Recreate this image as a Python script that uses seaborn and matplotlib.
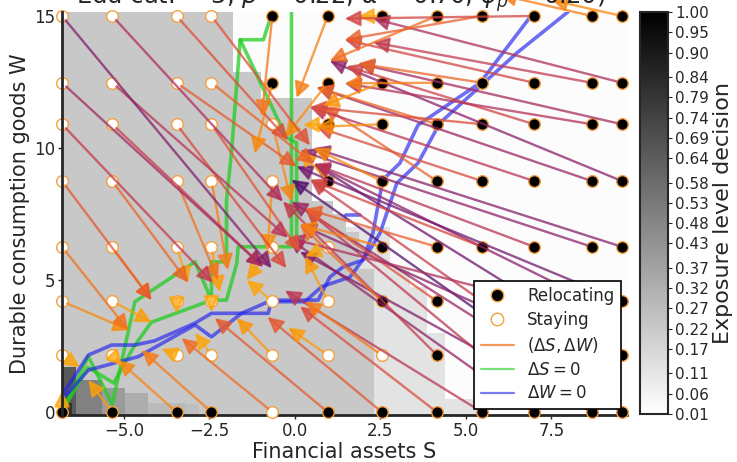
import numpy as np
import matplotlib
matplotlib.use("Agg")
import matplotlib.pyplot as plt
import seaborn as sns
import pandas as pd
from matplotlib.lines import Line2D

# ---------------- data ----------------
S_grid = [-6.81, -5.34, -3.46, -2.44, -0.66, 0.96, 2.54, 4.15, 5.47, 6.99, 8.68, 9.56]
W_grid = [0.0, 2.16, 4.20, 6.26, 8.75, 10.90, 12.47, 15.0]

# 1 = relocating, 0 = staying (rows follow W_grid, bottom to top)
relocating = [
    [1, 1, 1, 1, 0, 1, 1, 1, 1, 1, 1, 1],
    [0, 0, 0, 0, 0, 0, 0, 1, 1, 1, 1, 1],
    [0, 0, 0, 0, 0, 0, 1, 1, 1, 1, 1, 1],
    [0, 0, 0, 0, 0, 0, 1, 1, 1, 1, 1, 1],
    [0, 0, 0, 0, 0, 1, 1, 1, 1, 1, 1, 1],
    [0, 0, 0, 0, 0, 1, 1, 1, 1, 1, 1, 1],
    [0, 0, 0, 0, 1, 1, 1, 1, 1, 1, 1, 1],
    [0, 0, 0, 0, 1, 1, 1, 1, 1, 1, 1, 1],
]

next_S = [
    [-6.81, -6.04, -5.17, -4.48, -3.31, -2.34, -0.80, 0.15, -0.29, -0.20, 0.15, -0.10],
    [-6.29, -5.05, -3.90, -2.92, -1.70, -0.20, 0.30, -0.35, 0.30, -0.10, 0.15, 0.55],
    [-4.85, -4.19, -3.46, -2.44, -1.41, 0.30, 0.15, 0.30, 0.45, -0.20, 0.55, 0.05],
    [-4.87, -4.19, -3.12, -2.20, -1.41, 0.30, 0.15, 0.30, 0.45, 0.55, 0.15, 0.55],
    [-4.19, -3.12, -2.25, -1.96, -0.80, 0.15, 0.55, 0.82, 0.63, 0.44, 0.63, 1.02],
    [-2.40, -0.93, -0.25, 0.15, -0.10, 0.24, 0.63, 0.63, 0.44, 1.51, 1.46, 1.85],
    [-0.93, -0.20, 0.05, 0.55, -1.17, -0.29, 0.82, 1.46, 1.85, 1.46, 2.29, 2.29],
    [-0.68, -0.35, -0.20, 0.44, -0.97, 0.05, 1.85, 1.02, 1.46, 1.46, 6.00, 7.50],
]
next_W = [
    [0.80, 1.21, 1.97, 2.35, 2.80, 3.56, 3.60, 4.00, 4.60, 6.60, 6.07, 8.80],
    [1.70, 1.75, 2.40, 3.00, 3.56, 3.20, 4.20, 7.97, 7.70, 7.97, 7.10, 9.40],
    [3.10, 3.40, 3.75, 3.80, 5.00, 5.90, 7.10, 7.70, 8.80, 6.60, 9.40, 9.30],
    [3.10, 4.24, 4.90, 4.55, 5.00, 5.90, 7.10, 7.70, 8.80, 9.40, 9.90, 10.00],
    [4.24, 4.90, 5.00, 5.38, 6.10, 9.90, 10.00, 11.60, 10.80, 11.55, 12.30, 13.30],
    [4.90, 5.50, 5.45, 6.07, 7.97, 10.87, 10.80, 12.30, 11.55, 13.10, 12.45, 13.20],
    [5.50, 6.60, 9.30, 9.40, 9.80, 10.40, 11.60, 12.45, 13.20, 14.10, 14.00, 14.90],
    [5.45, 7.97, 10.30, 10.10, 11.20, 11.90, 14.98, 13.30, 14.10, 14.90, 15.80, 15.60],
]

# zero-change loci
green1_S = [-0.66, -0.92, -1.60, -1.85, -2.00, -2.00, -2.44, -2.44, -4.20, -4.70, -5.30, -6.05, -6.78]
green1_W = [15.15, 14.10, 14.10, 9.90, 8.00, 5.69, 5.69, 4.24, 3.40, 2.50, 1.10, 1.70, 0.10]
green2_S = [-6.78, -6.04, -5.34, -4.68, -2.92, -2.44, -2.00, -1.70, -1.66, -0.10, -0.10]
green2_W = [0.10, 2.10, 0.30, 4.18, 5.69, 4.24, 4.24, 5.63, 6.26, 6.26, 15.15]
green3_S = [-1.60, -0.25, 0.05, 0.05]
green3_W = [14.10, 10.40, 10.20, 6.30]

blue1_S = [-6.78, -6.04, -5.36, -4.68, -4.10, -2.92, -2.44, -0.78, -0.68, 0.68, 1.02, 1.40, 1.99, 2.28, 2.57, 3.07, 3.60, 5.41, 6.99]
blue1_W = [0.70, 2.16, 2.54, 2.54, 2.70, 3.37, 3.74, 3.74, 4.24, 4.24, 5.11, 5.49, 5.76, 6.78, 8.79, 9.43, 10.87, 12.46, 15.15]
blue2_S = [-6.78, -6.04, -4.58, -2.92, -2.44, -1.56, -0.78, 0.29, 0.78, 1.61, 2.13, 2.49, 2.98, 3.60, 4.24, 6.49, 7.98]
blue2_W = [0.50, 1.59, 2.10, 3.30, 2.85, 3.74, 4.18, 4.18, 4.75, 5.11, 6.02, 6.78, 8.67, 9.43, 10.95, 13.60, 15.15]
blue3_S = [1.50, 1.90]
blue3_W = [7.46, 7.46]

# exposure-level background (band boundaries)
dark_band_top = [5.4, 6.8, 7.5, 8.0, 11.9, 12.9, 15.3]
dark_edge_S = [2.3, 1.85, 1.5, 1.1, 0.5, -1.0, -1.8]
light_band_top = [0.5, 3.0, 4.75, 5.4, 7.0]
light_edge_S = [5.3, 4.4, 3.86, 3.36, 2.78]
patch_S_right = [-2.8, -3.2, -4.3, -4.99, -5.66, -6.4, -6.55]
patch_W_top = [0.30, 0.34, 0.72, 0.92, 1.20, 1.70, 0.35]
patch_value = [0.26, 0.28, 0.33, 0.40, 0.50, 0.65, 0.80]
level_dark, level_light, level_white = 0.224, 0.12, 0.025

cbar_ticks = [0.01, 0.06, 0.11, 0.17, 0.22, 0.27, 0.32, 0.37, 0.43, 0.48,
              0.53, 0.58, 0.64, 0.69, 0.74, 0.79, 0.84, 0.90, 0.95, 1.00]

title_text = "Edu cat. = 3, $\\beta$ = 0.22, $\\alpha$ = 0.70, $\\phi_p$ = 0.20)"

# ---------------- figure ----------------
sns.set_style("ticks")
plt.rcParams['font.family'] = ['DejaVu Sans']
fig = plt.figure(figsize=(7.37, 4.62), dpi=100)
ax = fig.add_axes([62/737, 47/462, 565/737, 403/462])
cax = fig.add_axes([640/737, 48/462, 28/737, 402/462])

xlim = (-6.81, 9.71)
ylim = (-0.11, 15.15)

# background grid
Sf = np.arange(xlim[0], xlim[1] + 0.02, 0.02)
Wf = np.arange(ylim[0], ylim[1] + 0.02, 0.02)
SS, WW = np.meshgrid(Sf, Wf)
Z = np.full(SS.shape, level_white)
lo = -1.0
for top, edge in zip(light_band_top, light_edge_S):
    Z[(WW >= lo) & (WW < top) & (SS < edge)] = level_light
    lo = top
lo = -1.0
for top, edge in zip(dark_band_top, dark_edge_S):
    Z[(WW >= lo) & (WW < top) & (SS < edge)] = level_dark
    lo = top
for sr, wt, v in zip(patch_S_right, patch_W_top, patch_value):
    Z[(SS < sr) & (WW < wt)] = v
im = ax.imshow(Z, extent=(Sf[0], Sf[-1], Wf[0], Wf[-1]), origin='lower',
               cmap='gray_r', vmin=0.01, vmax=1.0, aspect='auto',
               interpolation='nearest', zorder=0)

# arrows
cmap = plt.get_cmap('inferno')
for i, w in enumerate(W_grid):
    for j, s in enumerate(S_grid):
        ts, tw = next_S[i][j], next_W[i][j]
        L = np.hypot((ts - s) * 34.2, (tw - w) * 26.4)
        v = float(np.clip(0.85 - 0.75 * L / 500, 0.1, 0.8))
        ax.annotate("", xy=(ts, tw), xytext=(s, w),
                    arrowprops=dict(arrowstyle="-|>,head_length=0.55,head_width=0.28",
                                    mutation_scale=17, color=cmap(v), lw=1.7,
                                    alpha=0.75, shrinkA=4, shrinkB=0),
                    zorder=4, annotation_clip=False)

# zero loci
green_kw = dict(color='#22cc22', lw=2.6, alpha=0.75, sort=False, estimator=None, zorder=3)
blue_kw = dict(color='#2222ee', lw=2.6, alpha=0.65, sort=False, estimator=None, zorder=3)
sns.lineplot(x=green1_S, y=green1_W, ax=ax, **green_kw)
sns.lineplot(x=green2_S, y=green2_W, ax=ax, **green_kw)
sns.lineplot(x=green3_S, y=green3_W, ax=ax, **green_kw)
sns.lineplot(x=blue1_S, y=blue1_W, ax=ax, **blue_kw)
sns.lineplot(x=blue2_S, y=blue2_W, ax=ax, **blue_kw)
sns.lineplot(x=blue3_S, y=blue3_W, ax=ax, **blue_kw)

# points
pts = pd.DataFrame([(s, w, relocating[i][j]) for i, w in enumerate(W_grid)
                    for j, s in enumerate(S_grid)], columns=['S', 'W', 'reloc'])
sns.scatterplot(data=pts[pts.reloc == 1], x='S', y='W', color='black',
                edgecolor='#f5a040', linewidth=1.0, s=70, ax=ax, zorder=3.5, clip_on=False)
sns.scatterplot(data=pts[pts.reloc == 0], x='S', y='W', color='white',
                edgecolor='#f5a040', linewidth=1.0, s=70, ax=ax, zorder=3.5, clip_on=False)

ax.set_xlim(*xlim)
ax.set_ylim(*ylim)
ax.set_xticks([-5.0, -2.5, 0.0, 2.5, 5.0, 7.5])
ax.set_xticklabels(['\u22125.0', '\u22122.5', '0.0', '2.5', '5.0', '7.5'])
ax.set_yticks([0, 5, 10, 15])
ax.tick_params(labelsize=12, length=3, width=1, pad=2)
ax.set_xlabel("Financial assets S", fontsize=15, labelpad=1.5)
ax.set_ylabel("Durable consumption goods W", fontsize=15, labelpad=3)
for sp in ['top', 'right']:
    ax.spines[sp].set_visible(False)
ax.spines['left'].set_linewidth(2)
ax.spines['bottom'].set_linewidth(2)
ax.spines['left'].set_zorder(6)
ax.spines['bottom'].set_zorder(2)

handles = [
    Line2D([], [], marker='o', ls='', color='black', markeredgecolor='#f5a040', markersize=9),
    Line2D([], [], marker='o', ls='', color='white', markeredgecolor='#f5a040', markersize=9),
    Line2D([], [], color='#f08030', lw=1.6, alpha=0.8),
    Line2D([], [], color='#22cc22', lw=1.6, alpha=0.6),
    Line2D([], [], color='#2222ee', lw=1.6, alpha=0.6),
]
labels = ['Relocating', 'Staying', r'$(\Delta S, \Delta W)$', r'$\Delta S = 0$', r'$\Delta W = 0$']
leg = ax.legend(handles, labels, loc='lower right', fontsize=12, frameon=True,
                fancybox=False, framealpha=1, edgecolor='black',
                borderaxespad=0.35, handlelength=2.0, labelspacing=0.35)
leg.get_frame().set_linewidth(1.2)
leg.set_zorder(10)

cb = fig.colorbar(im, cax=cax, ticks=cbar_ticks)
cb.ax.set_yticklabels([f"{t:.2f}" for t in cbar_ticks])
cb.ax.tick_params(labelsize=11, length=3, pad=2)
cb.set_label("Exposure level decision", fontsize=16, labelpad=3)
cb.outline.set_linewidth(1.5)

fig.text(0.463, 1 - 4/462, title_text, ha='center', va='baseline', fontsize=17.5)

fig.savefig("out.png", dpi=100)
